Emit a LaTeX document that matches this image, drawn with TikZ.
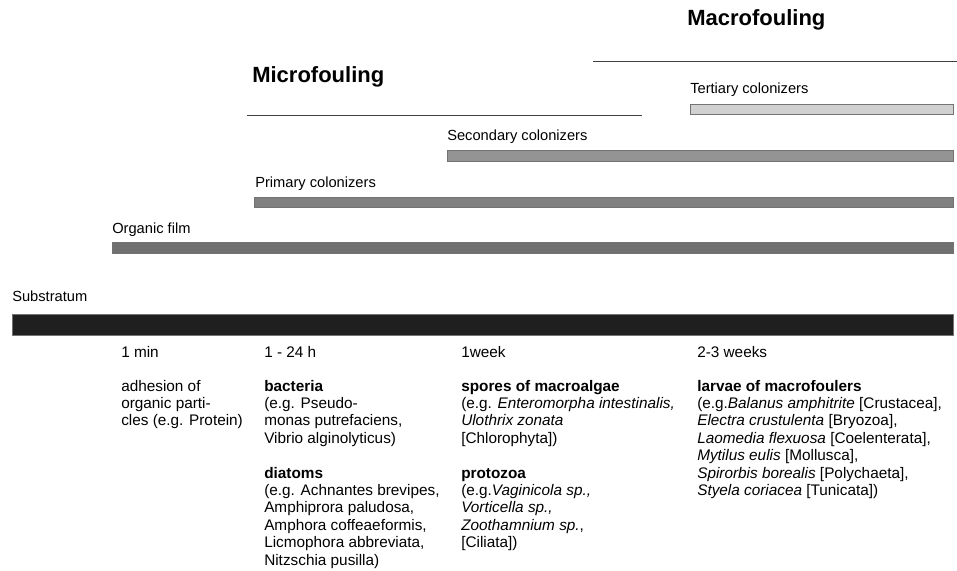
\documentclass[tikz,border=0pt]{standalone}
\usepackage{fontspec}
\setmainfont{Liberation Sans}
\begin{document}
\begin{tikzpicture}[x=0.75pt,y=-0.75pt,
  lbl/.style={anchor=base west,inner sep=0pt,font=\fontsize{11}{13}\selectfont},
  txt/.style={anchor=base west,inner sep=0pt,align=left,font=\fontsize{11.5}{13.05}\selectfont},
  head/.style={anchor=base west,inner sep=0pt,font=\fontsize{16.5}{20}\selectfont\bfseries},
  bar/.style={draw=black!55,line width=0.6pt},
  rule/.style={draw=black!75,line width=0.7pt}]
\useasboundingbox (0,0) rectangle (957,571);

\node[head] (macro) at (687,26) {Macrofouling};
\draw[rule] (593,61) -- (957,61);
\node[head] (micro) at (252,82) {Microfouling};
\draw[rule] (247,115) -- (642,115);

\node[lbl] (tert) at (690,93) {Tertiary colonizers};
\filldraw[bar,fill=black!18] (690,104) rectangle (953,114);
\node[lbl] (sec) at (447,140) {Secondary colonizers};
\filldraw[bar,fill=black!42] (447,150) rectangle (953,161);
\node[lbl] (prim) at (255,187) {Primary colonizers};
\filldraw[bar,fill=black!50] (254,197) rectangle (953,207);
\node[lbl] (film) at (112,233) {Organic film};
\filldraw[bar,fill=black!56] (112,242) rectangle (953,253);
\node[lbl] (sub) at (12,301) {Substratum};
\filldraw[bar,fill=black!88] (12,314) rectangle (953,335);

\node[txt] (tmin) at (121,357) {1 min};
\node[txt] (thour) at (264,357) {1 - 24 h};
\node[txt] (tweek) at (461,357) {1week};
\node[txt] (tweeks) at (697,357) {2-3 weeks};

% base of a multi-line node is its last line
\node[txt] (adhesion) at (121,425.8) {adhesion of\\organic parti-\\cles (e.g. Protein)};
\node[txt] (bacteria) at (264,443.2) {\textbf{bacteria}\\(e.g. Pseudo-\\monas putrefaciens,\\Vibrio alginolyticus)};
\node[txt] (diatoms) at (264,565) {\textbf{diatoms}\\(e.g. Achnantes brevipes,\\Amphiprora paludosa,\\Amphora coffeaeformis,\\Licmophora abbreviata,\\Nitzschia pusilla)};
\node[txt] (spores) at (461,443.2) {\textbf{spores of macroalgae}\\(e.g. \textit{Enteromorpha intestinalis,}\\\textit{Ulothrix zonata}\\{[}Chlorophyta{]})};
\node[txt] (protozoa) at (461,547.6) {\textbf{protozoa}\\(e.g.\textit{Vaginicola sp.,}\\\textit{Vorticella sp.,}\\\textit{Zoothamnium sp.},\\{[}Ciliata{]})};
\node[txt] (larvae) at (697,495.4) {\textbf{larvae of macrofoulers}\\(e.g.\textit{Balanus amphitrite} {[}Crustacea{]},\\\textit{Electra crustulenta} {[}Bryozoa{]},\\\textit{Laomedia flexuosa} {[}Coelenterata{]},\\\textit{Mytilus eulis} {[}Mollusca{]},\\\textit{Spirorbis borealis} {[}Polychaeta{]},\\\textit{Styela coriacea} {[}Tunicata{]})};
\end{tikzpicture}
\end{document}
